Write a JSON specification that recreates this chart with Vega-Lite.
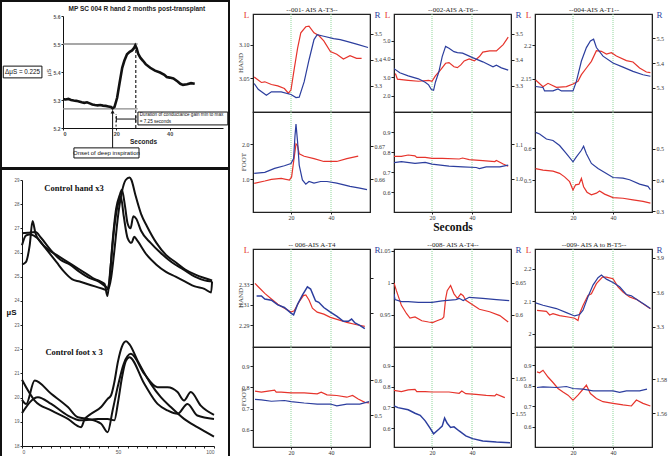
{
"$schema": "https://vega.github.io/schema/vega-lite/v6.json",
"padding": 0,
"background": "white",
"config": {
  "view": {"stroke": "#222", "strokeWidth": 1.2},
  "axis": {"grid": false, "labelFont": "Liberation Serif", "labelFontSize": 6, "labelColor": "#333", "tickSize": 3, "domainColor": "#222", "tickColor": "#222", "labelPadding": 1, "titleFont": "Liberation Serif", "titleFontWeight": "normal"},
  "axisX": {"tickSize": 2, "labelPadding": 0},
  "line": {"strokeWidth": 1.2}
},
"hconcat": [
{
  "vconcat": [
  {
    "width": 228, "height": 167,
    "view": {"stroke": "#111", "strokeWidth": 2},
    "encoding": {
      "x": {"field": "s", "type": "quantitative", "scale": {"domain": [0, 60], "range": [62, 222], "nice": false, "zero": false},
            "axis": {"values": [0, 20, 40], "offset": -40, "title": "Seconds", "titleFont": "Liberation Sans", "titleFontSize": 6.5, "titleFontWeight": "bold", "titleColor": "#222", "labelFont": "Liberation Sans", "labelFontSize": 5.5, "labelFontWeight": "bold", "labelColor": "#444", "tickSize": 2, "labelPadding": 1, "titlePadding": 2, "domainColor": "#111"}},
      "y": {"field": "v", "type": "quantitative", "scale": {"domain": [5.2, 5.6], "range": [127, 15], "nice": false, "zero": false},
            "axis": {"values": [5.2, 5.3, 5.4, 5.5, 5.6], "format": ".1f", "offset": -62, "title": "µS", "titleFont": "Liberation Sans", "titleFontSize": 6, "titleColor": "#333", "titlePadding": 2, "labelFont": "Liberation Sans", "labelFontSize": 5, "labelFontWeight": "bold", "labelColor": "#555", "tickSize": 2, "domainColor": "#111"}}
    },
    "layer": [
      {"data": {"values": [{"s": 0, "s2": 28, "v": 5.5}, {"s": 0, "s2": 28, "v": 5.268}]},
       "mark": {"type": "rule", "color": "#8a8a8a", "strokeWidth": 1.3},
       "encoding": {"x2": {"field": "s2"}}},
      {"data": {"values": [{"s": 27.3, "v": 5.2, "v2": 5.5}]},
       "mark": {"type": "rule", "color": "#111", "strokeWidth": 1.1, "strokeDash": [3, 2]},
       "encoding": {"y2": {"field": "v2"}}},
      {"data": {"values": [{"s": 19.9, "v": 5.205, "v2": 5.25}]},
       "mark": {"type": "rule", "color": "#111", "strokeWidth": 1, "strokeDash": [2, 2]},
       "encoding": {"y2": {"field": "v2"}}},
      {"data": {"values": [{"s": 18.6, "v": 5.129, "v2": 5.262}]},
       "mark": {"type": "rule", "color": "#111", "strokeWidth": 1},
       "encoding": {"y2": {"field": "v2"}}},
      {"data": {"values": [{"s": 18.6, "v": 5.258}]},
       "mark": {"type": "point", "shape": "triangle-up", "size": 16, "filled": true, "color": "#111", "opacity": 1},
       "encoding": {}},
      {"data": {"values": [{"s": 20, "s2": 27.3, "v": 5.232}]},
       "mark": {"type": "rule", "color": "#111", "strokeWidth": 1},
       "encoding": {"x2": {"field": "s2"}}},
      {"data": {"values": [{"s": 20, "v": 5.222, "v2": 5.243}, {"s": 27.3, "v": 5.222, "v2": 5.243}]},
       "mark": {"type": "rule", "color": "#111", "strokeWidth": 1},
       "encoding": {"y2": {"field": "v2"}}},
      {"data": {"values": [
        {"s": 0, "v": 5.303}, {"s": 1, "v": 5.302}, {"s": 2, "v": 5.304}, {"s": 3, "v": 5.3}, {"s": 4, "v": 5.298}, {"s": 5, "v": 5.297}, {"s": 6, "v": 5.295}, {"s": 7, "v": 5.292}, {"s": 8, "v": 5.29}, {"s": 9, "v": 5.292}, {"s": 10, "v": 5.288}, {"s": 11, "v": 5.284}, {"s": 12, "v": 5.282}, {"s": 13, "v": 5.281}, {"s": 14, "v": 5.282}, {"s": 15, "v": 5.28}, {"s": 16, "v": 5.279}, {"s": 17, "v": 5.277}, {"s": 18, "v": 5.275}, {"s": 18.6, "v": 5.27}, {"s": 19.3, "v": 5.275}, {"s": 20.3, "v": 5.308}, {"s": 21.2, "v": 5.36}, {"s": 22.2, "v": 5.415}, {"s": 23, "v": 5.44}, {"s": 24, "v": 5.463}, {"s": 25, "v": 5.472}, {"s": 25.9, "v": 5.477}, {"s": 26.6, "v": 5.485}, {"s": 27.1, "v": 5.495}, {"s": 27.6, "v": 5.485}, {"s": 28.2, "v": 5.465}, {"s": 29, "v": 5.451}, {"s": 30, "v": 5.44}, {"s": 31, "v": 5.428}, {"s": 32.7, "v": 5.415}, {"s": 34.5, "v": 5.405}, {"s": 36.4, "v": 5.398}, {"s": 38, "v": 5.39}, {"s": 38.9, "v": 5.382}, {"s": 40, "v": 5.38}, {"s": 41.4, "v": 5.377}, {"s": 43, "v": 5.366}, {"s": 44, "v": 5.358}, {"s": 45, "v": 5.354}, {"s": 46.5, "v": 5.356}, {"s": 48, "v": 5.36}, {"s": 49.4, "v": 5.358}]},
       "mark": {"type": "line", "color": "#111", "strokeWidth": 2.6},
       "encoding": {}},
      {"data": {"values": [
        {"s": -22.4, "s2": -7.9, "v": 5.379, "v2": 5.421},
        {"s": 4.1, "s2": 28.5, "v": 5.093, "v2": 5.129},
        {"s": 28.1, "s2": 61.8, "v": 5.211, "v2": 5.257}]},
       "mark": {"type": "rect", "fill": "white", "stroke": "#111", "strokeWidth": 1},
       "encoding": {"x2": {"field": "s2"}, "y2": {"field": "v2"}}},
      {"data": {"values": [
        {"s": -15.15, "v": 5.4, "txt": "ΔμS = 0.225"}]},
       "mark": {"type": "text", "font": "Liberation Sans", "fontSize": 6.3, "color": "#111", "align": "center", "baseline": "middle"},
       "encoding": {"text": {"field": "txt"}}},
      {"data": {"values": [
        {"s": 16.3, "v": 5.111, "txt": "Onset of deep inspiration"}]},
       "mark": {"type": "text", "font": "Liberation Sans", "fontSize": 6, "color": "#111", "align": "center", "baseline": "middle"},
       "encoding": {"text": {"field": "txt"}}},
      {"data": {"values": [
        {"s": 28.8, "v": 5.245, "txt": "Duration of conductance gain min to max"},
        {"s": 28.8, "v": 5.223, "txt": "= 7.25 seconds"}]},
       "mark": {"type": "text", "font": "Liberation Sans", "fontSize": 4.6, "color": "#111", "align": "left", "baseline": "middle"},
       "encoding": {"text": {"field": "txt"}}},
      {"data": {"values": [
        {"s": 27.7, "v": 5.625, "txt": "MP SC 004 R hand 2 months post-transplant"}]},
       "mark": {"type": "text", "font": "Liberation Sans", "fontSize": 6.5, "fontWeight": "bold", "color": "#222", "align": "center", "baseline": "middle"},
       "encoding": {"text": {"field": "txt"}}}
    ]
  },
  {
    "width": 228, "height": 288,
    "view": {"stroke": "#111", "strokeWidth": 2},
    "encoding": {
      "x": {"field": "x", "type": "quantitative", "scale": {"domain": [0, 100], "range": [21, 213], "nice": false, "zero": false},
            "axis": {"values": [0, 5, 10, 15, 20, 25, 30, 35, 40, 45, 50, 55, 60, 65, 70, 75, 80, 85, 90, 95, 100], "labelExpr": "datum.value % 50 == 0 ? datum.label : ''", "offset": -11, "title": null, "labelFont": "Liberation Sans", "labelFontSize": 5, "labelColor": "#555", "tickSize": 2, "labelPadding": 1, "domainColor": "#111"}},
      "y": {"field": "y", "type": "quantitative", "scale": {"domain": [18, 29], "range": [277, 11], "nice": false, "zero": false},
            "axis": {"values": [18, 19, 20, 21, 22, 23, 24, 25, 26, 27, 28, 29], "format": "d", "offset": -21, "title": "µS", "titleAngle": 0, "titleX": -11, "titleY": 143, "titleAlign": "center", "titleBaseline": "middle", "titleFont": "Liberation Sans", "titleFontSize": 8, "titleFontWeight": "bold", "titleColor": "#111", "labelFont": "Liberation Sans", "labelFontSize": 4.5, "labelColor": "#555", "tickSize": 2, "domainColor": "#111"}}
    },
    "layer": [
      {"data": {"values": [
        {"id": "h1", "x": 0, "y": 26.8}, {"id": "h1", "x": 3, "y": 26.82}, {"id": "h1", "x": 7, "y": 26.85}, {"id": "h1", "x": 10, "y": 26.6}, {"id": "h1", "x": 15, "y": 26.1}, {"id": "h1", "x": 20, "y": 25.7}, {"id": "h1", "x": 25, "y": 25.5}, {"id": "h1", "x": 30, "y": 25.2}, {"id": "h1", "x": 35, "y": 24.95}, {"id": "h1", "x": 40, "y": 24.8}, {"id": "h1", "x": 43.5, "y": 24.6}, {"id": "h1", "x": 45, "y": 24.5}, {"id": "h1", "x": 46.5, "y": 25.0}, {"id": "h1", "x": 48, "y": 26.0}, {"id": "h1", "x": 50, "y": 27.5}, {"id": "h1", "x": 52, "y": 28.5}, {"id": "h1", "x": 54, "y": 29.0}, {"id": "h1", "x": 56, "y": 29.1}, {"id": "h1", "x": 57, "y": 29.0}, {"id": "h1", "x": 59, "y": 28.4}, {"id": "h1", "x": 62, "y": 27.6}, {"id": "h1", "x": 65, "y": 27.1}, {"id": "h1", "x": 70, "y": 26.4}, {"id": "h1", "x": 75, "y": 25.9}, {"id": "h1", "x": 80, "y": 25.6}, {"id": "h1", "x": 85, "y": 25.3}, {"id": "h1", "x": 90, "y": 25.1}, {"id": "h1", "x": 95, "y": 24.95}, {"id": "h1", "x": 99, "y": 24.85},
        {"id": "h2", "x": 0, "y": 26.3}, {"id": "h2", "x": 2, "y": 26.7}, {"id": "h2", "x": 4, "y": 26.75}, {"id": "h2", "x": 8, "y": 26.6}, {"id": "h2", "x": 12, "y": 26.2}, {"id": "h2", "x": 18, "y": 25.6}, {"id": "h2", "x": 22, "y": 25.2}, {"id": "h2", "x": 26, "y": 24.9}, {"id": "h2", "x": 30, "y": 24.8}, {"id": "h2", "x": 34, "y": 24.7}, {"id": "h2", "x": 38, "y": 24.6}, {"id": "h2", "x": 42, "y": 24.5}, {"id": "h2", "x": 44, "y": 24.45}, {"id": "h2", "x": 45.5, "y": 24.8}, {"id": "h2", "x": 47, "y": 26.3}, {"id": "h2", "x": 49, "y": 27.8}, {"id": "h2", "x": 51, "y": 28.4}, {"id": "h2", "x": 52, "y": 28.6}, {"id": "h2", "x": 53.5, "y": 28.0}, {"id": "h2", "x": 55, "y": 27.2}, {"id": "h2", "x": 56.5, "y": 27.0}, {"id": "h2", "x": 58, "y": 27.5}, {"id": "h2", "x": 59.5, "y": 27.4}, {"id": "h2", "x": 62, "y": 26.9}, {"id": "h2", "x": 67, "y": 26.4}, {"id": "h2", "x": 72, "y": 26.0}, {"id": "h2", "x": 78, "y": 25.6}, {"id": "h2", "x": 84, "y": 25.3}, {"id": "h2", "x": 90, "y": 25.0}, {"id": "h2", "x": 95, "y": 24.85}, {"id": "h2", "x": 99, "y": 24.8},
        {"id": "h3", "x": 0, "y": 25.5}, {"id": "h3", "x": 2, "y": 25.6}, {"id": "h3", "x": 4, "y": 26.3}, {"id": "h3", "x": 5.5, "y": 27.3}, {"id": "h3", "x": 7, "y": 26.8}, {"id": "h3", "x": 10, "y": 26.4}, {"id": "h3", "x": 14, "y": 26.1}, {"id": "h3", "x": 18, "y": 25.9}, {"id": "h3", "x": 22, "y": 25.7}, {"id": "h3", "x": 26, "y": 25.5}, {"id": "h3", "x": 30, "y": 25.3}, {"id": "h3", "x": 34, "y": 25.1}, {"id": "h3", "x": 38, "y": 24.9}, {"id": "h3", "x": 41, "y": 24.8}, {"id": "h3", "x": 43, "y": 24.7}, {"id": "h3", "x": 44.5, "y": 24.2}, {"id": "h3", "x": 46, "y": 25.3}, {"id": "h3", "x": 48, "y": 27.0}, {"id": "h3", "x": 50, "y": 28.0}, {"id": "h3", "x": 51.5, "y": 28.3}, {"id": "h3", "x": 53, "y": 27.5}, {"id": "h3", "x": 55, "y": 26.6}, {"id": "h3", "x": 57, "y": 26.4}, {"id": "h3", "x": 58.5, "y": 26.65}, {"id": "h3", "x": 60, "y": 26.5}, {"id": "h3", "x": 65, "y": 25.9}, {"id": "h3", "x": 70, "y": 25.5}, {"id": "h3", "x": 75, "y": 25.2}, {"id": "h3", "x": 80, "y": 25.0}, {"id": "h3", "x": 85, "y": 24.8}, {"id": "h3", "x": 90, "y": 24.6}, {"id": "h3", "x": 95, "y": 24.5}, {"id": "h3", "x": 98.5, "y": 24.35}, {"id": "h3", "x": 99, "y": 24.8},
        {"id": "f1", "x": 0, "y": 20.74}, {"id": "f1", "x": 6.6, "y": 19.88}, {"id": "f1", "x": 15.2, "y": 19.47}, {"id": "f1", "x": 23.9, "y": 19.12}, {"id": "f1", "x": 30.8, "y": 18.78}, {"id": "f1", "x": 32.5, "y": 19.08}, {"id": "f1", "x": 36, "y": 19.33}, {"id": "f1", "x": 41.2, "y": 19.61}, {"id": "f1", "x": 44.6, "y": 19.95}, {"id": "f1", "x": 46.4, "y": 20.1}, {"id": "f1", "x": 48, "y": 20.6}, {"id": "f1", "x": 50, "y": 21.5}, {"id": "f1", "x": 52, "y": 22.1}, {"id": "f1", "x": 54.2, "y": 22.33}, {"id": "f1", "x": 56, "y": 22.2}, {"id": "f1", "x": 60.2, "y": 21.53}, {"id": "f1", "x": 67.1, "y": 20.57}, {"id": "f1", "x": 72.3, "y": 20.02}, {"id": "f1", "x": 77.5, "y": 19.61}, {"id": "f1", "x": 84.4, "y": 19.12}, {"id": "f1", "x": 91.3, "y": 18.78}, {"id": "f1", "x": 100, "y": 18.39},
        {"id": "f2", "x": 0, "y": 19.91}, {"id": "f2", "x": 2.2, "y": 19.74}, {"id": "f2", "x": 6.6, "y": 20.71}, {"id": "f2", "x": 15.2, "y": 20.16}, {"id": "f2", "x": 23.9, "y": 19.61}, {"id": "f2", "x": 29.1, "y": 19.19}, {"id": "f2", "x": 34.3, "y": 19.12}, {"id": "f2", "x": 41.2, "y": 18.92}, {"id": "f2", "x": 44.6, "y": 18.57}, {"id": "f2", "x": 47.2, "y": 19.47}, {"id": "f2", "x": 50, "y": 20.5}, {"id": "f2", "x": 53, "y": 21.4}, {"id": "f2", "x": 56.7, "y": 21.81}, {"id": "f2", "x": 63.7, "y": 20.98}, {"id": "f2", "x": 70.6, "y": 20.43}, {"id": "f2", "x": 75.8, "y": 20.43}, {"id": "f2", "x": 81, "y": 20.23}, {"id": "f2", "x": 84.4, "y": 19.88}, {"id": "f2", "x": 87.9, "y": 20.23}, {"id": "f2", "x": 93.1, "y": 19.67}, {"id": "f2", "x": 100, "y": 19.29},
        {"id": "f3", "x": 0, "y": 19.36}, {"id": "f3", "x": 8.3, "y": 20.02}, {"id": "f3", "x": 15.2, "y": 19.74}, {"id": "f3", "x": 23.9, "y": 19.26}, {"id": "f3", "x": 30.8, "y": 19.06}, {"id": "f3", "x": 39.4, "y": 19.12}, {"id": "f3", "x": 44.6, "y": 19.12}, {"id": "f3", "x": 48.1, "y": 19.06}, {"id": "f3", "x": 50, "y": 19.8}, {"id": "f3", "x": 52, "y": 20.8}, {"id": "f3", "x": 54, "y": 21.5}, {"id": "f3", "x": 55.9, "y": 21.67}, {"id": "f3", "x": 63.7, "y": 20.57}, {"id": "f3", "x": 70.6, "y": 19.74}, {"id": "f3", "x": 75.8, "y": 19.47}, {"id": "f3", "x": 81, "y": 19.33}, {"id": "f3", "x": 86.2, "y": 19.74}, {"id": "f3", "x": 91.3, "y": 19.26}, {"id": "f3", "x": 100, "y": 19.12}]},
       "mark": {"type": "line", "color": "#111", "strokeWidth": 2, "interpolate": "monotone"},
       "encoding": {"detail": {"field": "id"}}},
      {"data": {"values": [
        {"x": 27.1, "y": 28.67, "txt": "Control hand x3"},
        {"x": 27.1, "y": 21.89, "txt": "Control foot x 3"}]},
       "mark": {"type": "text", "font": "Liberation Serif", "fontSize": 8.5, "fontWeight": "bold", "color": "#111", "align": "center", "baseline": "middle"},
       "encoding": {"text": {"field": "txt"}}}
    ]
  }
  ],
  "spacing": 1,
  "bounds": "flush"
},
{
  "columns": 3,
  "align": "each",
  "bounds": "flush",
  "spacing": {"row": 0, "column": 24},
  "concat": [
  {"width": 117, "height": 13, "view": {"stroke": null}, "data": {"values": [{"a": 0}]}, "mark": {"type": "point", "opacity": 0}, "encoding": {}},
  {"width": 117, "height": 13, "view": {"stroke": null}, "data": {"values": [{"a": 0}]}, "mark": {"type": "point", "opacity": 0}, "encoding": {}},
  {"width": 117, "height": 13, "view": {"stroke": null}, "data": {"values": [{"a": 0}]}, "mark": {"type": "point", "opacity": 0}, "encoding": {}},
  {
    "width": 117, "height": 98,
    "title": {"text": "HAND", "orient": "left", "frame": "group", "offset": -5, "fontSize": 7, "font": "Liberation Serif", "fontWeight": "normal", "color": "#444"},
    "encoding": {"x": {"field": "t", "type": "quantitative", "scale": {"domain": [1, 59.5], "nice": false, "zero": false}, "axis": {"orient": "top", "title": "--001- AIS A-T3--", "labels": false, "ticks": false, "domain": false, "titlePadding": 2, "titleFontSize": 7, "titleColor": "#222"}}},
    "layer": [
      {"data": {"values": [{"t": 20}, {"t": 40}]}, "mark": {"type": "rule", "color": "#8fd69a", "strokeDash": [1, 1], "strokeWidth": 1}, "encoding": {}},
      {"data": {"values": [{"t": 1.6, "v": 3.052}, {"t": 5.2, "v": 3.044}, {"t": 6.9, "v": 3.045}, {"t": 10.2, "v": 3.041}, {"t": 13.4, "v": 3.039}, {"t": 16.7, "v": 3.035}, {"t": 18.7, "v": 3.028}, {"t": 20, "v": 3.033}, {"t": 21.6, "v": 3.064}, {"t": 23.3, "v": 3.095}, {"t": 24.9, "v": 3.118}, {"t": 27.4, "v": 3.127}, {"t": 29, "v": 3.128}, {"t": 31.5, "v": 3.118}, {"t": 33.9, "v": 3.114}, {"t": 36.4, "v": 3.106}, {"t": 39.7, "v": 3.09}, {"t": 42.9, "v": 3.086}, {"t": 46.2, "v": 3.079}, {"t": 49.5, "v": 3.084}, {"t": 52.8, "v": 3.08}, {"t": 55.3, "v": 3.08}]},
       "mark": {"type": "line", "color": "#e6342c", "clip": true},
       "encoding": {"y": {"field": "v", "type": "quantitative", "scale": {"domain": [3.0, 3.146], "nice": false, "zero": false}, "axis": {"values": [3.05, 3.1], "format": ".2f", "title": "L", "titleAngle": 0, "titleColor": "#e6342c", "titleX": -7, "titleY": 0, "titleFontSize": 9, "titleBaseline": "middle", "titleAlign": "center"}}}},
      {"data": {"values": [{"t": 1.6, "v": 3.309}, {"t": 3.6, "v": 3.287}, {"t": 7.7, "v": 3.264}, {"t": 10.2, "v": 3.277}, {"t": 15.1, "v": 3.277}, {"t": 20, "v": 3.267}, {"t": 22.5, "v": 3.255}, {"t": 24.1, "v": 3.257}, {"t": 26.6, "v": 3.316}, {"t": 29, "v": 3.399}, {"t": 31.5, "v": 3.477}, {"t": 33.1, "v": 3.496}, {"t": 36.4, "v": 3.49}, {"t": 41.3, "v": 3.481}, {"t": 44.6, "v": 3.477}, {"t": 47.9, "v": 3.47}, {"t": 52.8, "v": 3.46}, {"t": 58.5, "v": 3.447}]},
       "mark": {"type": "line", "color": "#2c3e9e", "clip": true},
       "encoding": {"y": {"field": "v", "type": "quantitative", "scale": {"domain": [3.2, 3.575], "nice": false, "zero": false}, "axis": {"orient": "right", "values": [3.3, 3.4, 3.5], "format": ".1f", "title": "R", "titleAngle": 0, "titleColor": "#2c3e9e", "titleX": 7, "titleY": 0, "titleFontSize": 9, "titleBaseline": "middle", "titleAlign": "center"}}}}
    ],
    "resolve": {"scale": {"y": "independent"}}
  },
  {
    "width": 117, "height": 98,
    "encoding": {"x": {"field": "t", "type": "quantitative", "scale": {"domain": [1, 59.5], "nice": false, "zero": false}, "axis": {"orient": "top", "title": "--002-AIS A-T6--", "labels": false, "ticks": false, "domain": false, "titlePadding": 2, "titleFontSize": 7, "titleColor": "#222"}}},
    "layer": [
      {"data": {"values": [{"t": 20}, {"t": 40}]}, "mark": {"type": "rule", "color": "#8fd69a", "strokeDash": [1, 1], "strokeWidth": 1}, "encoding": {}},
      {"data": {"values": [{"t": 1.7, "v": 3.2}, {"t": 2.7, "v": 2.89}, {"t": 8.1, "v": 2.83}, {"t": 13.2, "v": 2.78}, {"t": 18.3, "v": 2.83}, {"t": 20, "v": 2.78}, {"t": 21.7, "v": 3.07}, {"t": 24.2, "v": 3.39}, {"t": 26.8, "v": 3.76}, {"t": 28.5, "v": 3.8}, {"t": 31, "v": 3.57}, {"t": 32.7, "v": 3.52}, {"t": 34.4, "v": 3.67}, {"t": 36.1, "v": 3.89}, {"t": 38.6, "v": 4.0}, {"t": 41.2, "v": 3.89}, {"t": 43.7, "v": 4.13}, {"t": 45.4, "v": 4.37}, {"t": 48.8, "v": 4.44}, {"t": 52.2, "v": 4.44}, {"t": 55.6, "v": 4.78}, {"t": 58.1, "v": 5.19}]},
       "mark": {"type": "line", "color": "#e6342c", "clip": true},
       "encoding": {"y": {"field": "v", "type": "quantitative", "scale": {"domain": [1.1, 6.45], "nice": false, "zero": false}, "axis": {"values": [2, 3, 4, 5], "format": ".1f", "title": "L", "titleAngle": 0, "titleColor": "#e6342c", "titleX": -7, "titleY": 0, "titleFontSize": 9, "titleBaseline": "middle", "titleAlign": "center"}}}},
      {"data": {"values": [{"t": 1, "v": 3.366}, {"t": 3.9, "v": 3.35}, {"t": 8.1, "v": 3.338}, {"t": 13.2, "v": 3.327}, {"t": 16.6, "v": 3.314}, {"t": 18.3, "v": 3.304}, {"t": 19.7, "v": 3.286}, {"t": 20.8, "v": 3.283}, {"t": 21.7, "v": 3.314}, {"t": 23.4, "v": 3.353}, {"t": 25.1, "v": 3.412}, {"t": 26.8, "v": 3.451}, {"t": 28.5, "v": 3.444}, {"t": 31, "v": 3.431}, {"t": 32.7, "v": 3.427}, {"t": 35.3, "v": 3.425}, {"t": 40.3, "v": 3.408}, {"t": 45.4, "v": 3.392}, {"t": 50.5, "v": 3.373}, {"t": 52.2, "v": 3.379}, {"t": 54.7, "v": 3.369}, {"t": 58.1, "v": 3.36}]},
       "mark": {"type": "line", "color": "#2c3e9e", "clip": true},
       "encoding": {"y": {"field": "v", "type": "quantitative", "scale": {"domain": [3.2, 3.575], "nice": false, "zero": false}, "axis": {"orient": "right", "values": [3.3, 3.4, 3.5], "format": ".1f", "title": "R", "titleAngle": 0, "titleColor": "#2c3e9e", "titleX": 7, "titleY": 0, "titleFontSize": 9, "titleBaseline": "middle", "titleAlign": "center"}}}}
    ],
    "resolve": {"scale": {"y": "independent"}}
  },
  {
    "width": 117, "height": 98,
    "encoding": {"x": {"field": "t", "type": "quantitative", "scale": {"domain": [1, 59.5], "nice": false, "zero": false}, "axis": {"orient": "top", "title": "--004-AIS A-T1--", "labels": false, "ticks": false, "domain": false, "titlePadding": 2, "titleFontSize": 7, "titleColor": "#222"}}},
    "layer": [
      {"data": {"values": [{"t": 20}, {"t": 40}]}, "mark": {"type": "rule", "color": "#8fd69a", "strokeDash": [1, 1], "strokeWidth": 1}, "encoding": {}},
      {"data": {"values": [{"t": 1.3, "v": 2.148}, {"t": 5, "v": 2.138}, {"t": 7.5, "v": 2.143}, {"t": 11.7, "v": 2.137}, {"t": 16.7, "v": 2.138}, {"t": 20, "v": 2.142}, {"t": 22.5, "v": 2.146}, {"t": 24.2, "v": 2.156}, {"t": 26.7, "v": 2.166}, {"t": 29.2, "v": 2.176}, {"t": 31.7, "v": 2.192}, {"t": 34.2, "v": 2.191}, {"t": 36.7, "v": 2.187}, {"t": 39.2, "v": 2.189}, {"t": 41.7, "v": 2.184}, {"t": 46.7, "v": 2.177}, {"t": 50, "v": 2.175}, {"t": 53.3, "v": 2.166}, {"t": 56.7, "v": 2.16}, {"t": 58.7, "v": 2.159}]},
       "mark": {"type": "line", "color": "#e6342c", "clip": true},
       "encoding": {"y": {"field": "v", "type": "quantitative", "scale": {"domain": [2.1, 2.247], "nice": false, "zero": false}, "axis": {"values": [2.15, 2.2], "format": ".2~f", "title": "L", "titleAngle": 0, "titleColor": "#e6342c", "titleX": -7, "titleY": 0, "titleFontSize": 9, "titleBaseline": "middle", "titleAlign": "center"}}}},
      {"data": {"values": [{"t": 1.3, "v": 5.304}, {"t": 5, "v": 5.3}, {"t": 5.8, "v": 5.286}, {"t": 10, "v": 5.286}, {"t": 12.5, "v": 5.294}, {"t": 14.2, "v": 5.286}, {"t": 20, "v": 5.286}, {"t": 21.7, "v": 5.325}, {"t": 24.2, "v": 5.408}, {"t": 26.7, "v": 5.463}, {"t": 28.7, "v": 5.49}, {"t": 30.3, "v": 5.497}, {"t": 31.7, "v": 5.463}, {"t": 35, "v": 5.428}, {"t": 40, "v": 5.4}, {"t": 45, "v": 5.383}, {"t": 50, "v": 5.366}, {"t": 55, "v": 5.352}, {"t": 58.7, "v": 5.346}]},
       "mark": {"type": "line", "color": "#2c3e9e", "clip": true},
       "encoding": {"y": {"field": "v", "type": "quantitative", "scale": {"domain": [5.2, 5.6], "nice": false, "zero": false}, "axis": {"orient": "right", "values": [5.3, 5.4, 5.5], "format": ".1f", "title": "R", "titleAngle": 0, "titleColor": "#2c3e9e", "titleX": 7, "titleY": 0, "titleFontSize": 9, "titleBaseline": "middle", "titleAlign": "center"}}}}
    ],
    "resolve": {"scale": {"y": "independent"}}
  },
  {
    "width": 117, "height": 100,
    "title": {"text": "FOOT", "orient": "left", "frame": "group", "offset": -5, "fontSize": 7, "font": "Liberation Serif", "fontWeight": "normal", "color": "#444"},
    "encoding": {"x": {"field": "t", "type": "quantitative", "scale": {"domain": [1, 59.5], "nice": false, "zero": false}, "axis": {"values": [20, 40], "format": "d", "title": null}}},
    "layer": [
      {"data": {"values": [{"t": 20}, {"t": 40}]}, "mark": {"type": "rule", "color": "#8fd69a", "strokeDash": [1, 1], "strokeWidth": 1}, "encoding": {}},
      {"data": {"values": [{"t": 1.6, "v": 0.888}, {"t": 6.9, "v": 0.953}, {"t": 10.2, "v": 1.0}, {"t": 15.1, "v": 1.03}, {"t": 19.2, "v": 0.98}, {"t": 20.3, "v": 1.07}, {"t": 21.3, "v": 1.5}, {"t": 22.5, "v": 2.01}, {"t": 23.3, "v": 1.96}, {"t": 24.1, "v": 1.73}, {"t": 26.6, "v": 1.66}, {"t": 31.5, "v": 1.59}, {"t": 36.4, "v": 1.51}, {"t": 42.9, "v": 1.51}, {"t": 47.9, "v": 1.59}, {"t": 53.6, "v": 1.66}]},
       "mark": {"type": "line", "color": "#e6342c", "clip": true},
       "encoding": {"y": {"field": "v", "type": "quantitative", "scale": {"domain": [0.07, 2.92], "nice": false, "zero": false}, "axis": {"values": [1, 2], "format": ".1f", "title": null}}}},
      {"data": {"values": [{"t": 1.6, "v": 0.6618}, {"t": 6.9, "v": 0.6621}, {"t": 11.8, "v": 0.6633}, {"t": 16.7, "v": 0.6641}, {"t": 20, "v": 0.6648}, {"t": 21.3, "v": 0.6663}, {"t": 22, "v": 0.6733}, {"t": 22.5, "v": 0.6768}, {"t": 23.3, "v": 0.6713}, {"t": 24.1, "v": 0.6643}, {"t": 25.7, "v": 0.6598}, {"t": 27.4, "v": 0.6585}, {"t": 29, "v": 0.6593}, {"t": 31.5, "v": 0.6588}, {"t": 34.8, "v": 0.6593}, {"t": 38, "v": 0.6593}, {"t": 42.9, "v": 0.6588}, {"t": 49.5, "v": 0.6578}, {"t": 54.4, "v": 0.6573}, {"t": 58, "v": 0.6568}]},
       "mark": {"type": "line", "color": "#2c3e9e", "clip": true},
       "encoding": {"y": {"field": "v", "type": "quantitative", "scale": {"domain": [0.65, 0.6805], "nice": false, "zero": false}, "axis": {"orient": "right", "values": [0.66, 0.67], "format": ".2f", "title": null}}}}
    ],
    "resolve": {"scale": {"y": "independent"}}
  },
  {
    "width": 117, "height": 100,
    "encoding": {"x": {"field": "t", "type": "quantitative", "scale": {"domain": [1, 59.5], "nice": false, "zero": false}, "axis": {"values": [20, 40], "format": "d", "title": "Seconds", "titleFont": "Liberation Serif", "titleFontSize": 11.5, "titleFontWeight": "bold", "titleColor": "#111", "titlePadding": 1.5}}},
    "layer": [
      {"data": {"values": [{"t": 20}, {"t": 40}]}, "mark": {"type": "rule", "color": "#8fd69a", "strokeDash": [1, 1], "strokeWidth": 1}, "encoding": {}},
      {"data": {"values": [{"t": 1, "v": 0.778}, {"t": 4.7, "v": 0.778}, {"t": 8.1, "v": 0.785}, {"t": 11.5, "v": 0.781}, {"t": 12.4, "v": 0.773}, {"t": 16.6, "v": 0.773}, {"t": 20, "v": 0.768}, {"t": 25.1, "v": 0.768}, {"t": 33.6, "v": 0.765}, {"t": 35.3, "v": 0.77}, {"t": 38.6, "v": 0.762}, {"t": 45.4, "v": 0.757}, {"t": 51.4, "v": 0.752}, {"t": 52.2, "v": 0.758}, {"t": 55.6, "v": 0.74}, {"t": 58.1, "v": 0.729}]},
       "mark": {"type": "line", "color": "#e6342c", "clip": true},
       "encoding": {"y": {"field": "v", "type": "quantitative", "scale": {"domain": [0.5, 1.0], "nice": false, "zero": false}, "axis": {"values": [0.6, 0.7, 0.8, 0.9], "format": ".1f", "title": null}}}},
      {"data": {"values": [{"t": 1, "v": 1.047}, {"t": 4.7, "v": 1.05}, {"t": 11.5, "v": 1.045}, {"t": 16.6, "v": 1.048}, {"t": 20, "v": 1.043}, {"t": 28.5, "v": 1.037}, {"t": 35.3, "v": 1.035}, {"t": 42.1, "v": 1.033}, {"t": 43.7, "v": 1.03}, {"t": 47.1, "v": 1.035}, {"t": 53.9, "v": 1.035}, {"t": 58.1, "v": 1.04}]},
       "mark": {"type": "line", "color": "#2c3e9e", "clip": true},
       "encoding": {"y": {"field": "v", "type": "quantitative", "scale": {"domain": [0.904, 1.194], "nice": false, "zero": false}, "axis": {"orient": "right", "values": [1.0, 1.1], "format": ".1f", "title": null}}}}
    ],
    "resolve": {"scale": {"y": "independent"}}
  },
  {
    "width": 117, "height": 100,
    "encoding": {"x": {"field": "t", "type": "quantitative", "scale": {"domain": [1, 59.5], "nice": false, "zero": false}, "axis": {"values": [20, 40], "format": "d", "title": null}}},
    "layer": [
      {"data": {"values": [{"t": 20}, {"t": 40}]}, "mark": {"type": "rule", "color": "#8fd69a", "strokeDash": [1, 1], "strokeWidth": 1}, "encoding": {}},
      {"data": {"values": [{"t": 1.3, "v": 0.536}, {"t": 5, "v": 0.531}, {"t": 10, "v": 0.528}, {"t": 13.3, "v": 0.521}, {"t": 15.8, "v": 0.51}, {"t": 18.3, "v": 0.495}, {"t": 20, "v": 0.469}, {"t": 21.3, "v": 0.485}, {"t": 23, "v": 0.487}, {"t": 24.2, "v": 0.505}, {"t": 25.3, "v": 0.479}, {"t": 27, "v": 0.462}, {"t": 29.2, "v": 0.454}, {"t": 31.7, "v": 0.459}, {"t": 33.3, "v": 0.466}, {"t": 35.8, "v": 0.456}, {"t": 40, "v": 0.445}, {"t": 45, "v": 0.443}, {"t": 50, "v": 0.438}, {"t": 55, "v": 0.433}, {"t": 58.7, "v": 0.428}]},
       "mark": {"type": "line", "color": "#e6342c", "clip": true},
       "encoding": {"y": {"field": "v", "type": "quantitative", "scale": {"domain": [0.4, 0.713], "nice": false, "zero": false}, "axis": {"values": [0.5, 0.6], "format": ".1f", "title": null}}}},
      {"data": {"values": [{"t": 1.3, "v": 0.552}, {"t": 3.3, "v": 0.547}, {"t": 6.7, "v": 0.531}, {"t": 10, "v": 0.526}, {"t": 13.3, "v": 0.51}, {"t": 16.7, "v": 0.484}, {"t": 20, "v": 0.458}, {"t": 21.7, "v": 0.474}, {"t": 24.2, "v": 0.495}, {"t": 25.3, "v": 0.508}, {"t": 26.7, "v": 0.484}, {"t": 29.2, "v": 0.453}, {"t": 32.5, "v": 0.437}, {"t": 36.7, "v": 0.421}, {"t": 40, "v": 0.408}, {"t": 45, "v": 0.406}, {"t": 48.3, "v": 0.401}, {"t": 53.3, "v": 0.387}, {"t": 57.5, "v": 0.38}, {"t": 58.7, "v": 0.369}]},
       "mark": {"type": "line", "color": "#2c3e9e", "clip": true},
       "encoding": {"y": {"field": "v", "type": "quantitative", "scale": {"domain": [0.298, 0.617], "nice": false, "zero": false}, "axis": {"orient": "right", "values": [0.3, 0.4, 0.5], "format": ".1f", "title": null}}}}
    ],
    "resolve": {"scale": {"y": "independent"}}
  },
  {"width": 117, "height": 37, "view": {"stroke": null}, "data": {"values": [{"a": 0}]}, "mark": {"type": "point", "opacity": 0}, "encoding": {}},
  {"width": 117, "height": 37, "view": {"stroke": null}, "data": {"values": [{"a": 0}]}, "mark": {"type": "point", "opacity": 0}, "encoding": {}},
  {"width": 117, "height": 37, "view": {"stroke": null}, "data": {"values": [{"a": 0}]}, "mark": {"type": "point", "opacity": 0}, "encoding": {}},
  {
    "width": 117, "height": 98,
    "title": {"text": "HAND", "orient": "left", "frame": "group", "offset": -5, "fontSize": 7, "font": "Liberation Serif", "fontWeight": "normal", "color": "#444"},
    "encoding": {"x": {"field": "t", "type": "quantitative", "scale": {"domain": [1, 59.5], "nice": false, "zero": false}, "axis": {"orient": "top", "title": "-- 006-AIS A-T4", "labels": false, "ticks": false, "domain": false, "titlePadding": 2, "titleFontSize": 7, "titleColor": "#222"}}},
    "layer": [
      {"data": {"values": [{"t": 20}, {"t": 40}]}, "mark": {"type": "rule", "color": "#8fd69a", "strokeDash": [1, 1], "strokeWidth": 1}, "encoding": {}},
      {"data": {"values": [{"t": 2, "v": 2.3306}, {"t": 3.6, "v": 2.3274}, {"t": 6.9, "v": 2.321}, {"t": 10.2, "v": 2.3156}, {"t": 13.4, "v": 2.3105}, {"t": 16.7, "v": 2.3066}, {"t": 20, "v": 2.3028}, {"t": 21.6, "v": 2.3041}, {"t": 24.1, "v": 2.313}, {"t": 26.2, "v": 2.3188}, {"t": 27.4, "v": 2.3194}, {"t": 29, "v": 2.3146}, {"t": 30.7, "v": 2.3066}, {"t": 33.1, "v": 2.3028}, {"t": 36.4, "v": 2.3009}, {"t": 39.7, "v": 2.2977}, {"t": 43, "v": 2.2958}, {"t": 47.9, "v": 2.2929}, {"t": 52.8, "v": 2.2906}, {"t": 56.9, "v": 2.289}]},
       "mark": {"type": "line", "color": "#e6342c", "clip": true},
       "encoding": {"y": {"field": "v", "type": "quantitative", "scale": {"domain": [2.269, 2.364], "nice": false, "zero": false}, "axis": {"values": [2.29, 2.31, 2.33], "format": ".2f", "title": "L", "titleAngle": 0, "titleColor": "#e6342c", "titleX": -7, "titleY": 0, "titleFontSize": 9, "titleBaseline": "middle", "titleAlign": "center"}}}},
      {"data": {"values": [{"t": 2.8, "v": 0.52}, {"t": 5.2, "v": 0.52}, {"t": 6.9, "v": 0.49}, {"t": 10.2, "v": 0.477}, {"t": 13.4, "v": 0.43}, {"t": 16.7, "v": 0.403}, {"t": 20, "v": 0.346}, {"t": 21.3, "v": 0.329}, {"t": 23.3, "v": 0.436}, {"t": 25.7, "v": 0.53}, {"t": 28.2, "v": 0.614}, {"t": 29.8, "v": 0.591}, {"t": 32.3, "v": 0.47}, {"t": 33.9, "v": 0.456}, {"t": 36.4, "v": 0.403}, {"t": 39.7, "v": 0.356}, {"t": 43, "v": 0.312}, {"t": 46.2, "v": 0.262}, {"t": 48.7, "v": 0.262}, {"t": 50.3, "v": 0.285}, {"t": 52, "v": 0.245}, {"t": 54.4, "v": 0.221}, {"t": 56.9, "v": 0.188}]},
       "mark": {"type": "line", "color": "#2c3e9e", "strokeWidth": 1.5, "clip": true},
       "encoding": {"y": {"field": "v", "type": "quantitative", "scale": {"domain": [0, 1], "nice": false, "zero": false}, "axis": {"orient": "right", "values": [0.346, 0.705], "labels": false, "title": "R", "titleAngle": 0, "titleColor": "#2c3e9e", "titleX": 7, "titleY": 0, "titleFontSize": 9, "titleBaseline": "middle", "titleAlign": "center"}}}}
    ],
    "resolve": {"scale": {"y": "independent"}}
  },
  {
    "width": 117, "height": 98,
    "encoding": {"x": {"field": "t", "type": "quantitative", "scale": {"domain": [1, 59.5], "nice": false, "zero": false}, "axis": {"orient": "top", "title": "--008- AIS A-T4--", "labels": false, "ticks": false, "domain": false, "titlePadding": 2, "titleFontSize": 7, "titleColor": "#222"}}},
    "layer": [
      {"data": {"values": [{"t": 20}, {"t": 40}]}, "mark": {"type": "rule", "color": "#8fd69a", "strokeDash": [1, 1], "strokeWidth": 1}, "encoding": {}},
      {"data": {"values": [{"t": 1, "v": 1.0}, {"t": 2.2, "v": 0.988}, {"t": 4.7, "v": 0.965}, {"t": 7.3, "v": 0.952}, {"t": 9, "v": 0.945}, {"t": 11.5, "v": 0.947}, {"t": 14.9, "v": 0.941}, {"t": 18.3, "v": 0.939}, {"t": 20.3, "v": 0.938}, {"t": 22.5, "v": 0.941}, {"t": 25.1, "v": 0.944}, {"t": 25.9, "v": 0.947}, {"t": 26.8, "v": 0.975}, {"t": 27.6, "v": 0.988}, {"t": 29.3, "v": 0.996}, {"t": 31, "v": 0.983}, {"t": 32.7, "v": 0.976}, {"t": 34.4, "v": 0.983}, {"t": 35.6, "v": 0.98}, {"t": 36.9, "v": 0.973}, {"t": 40.3, "v": 0.966}, {"t": 43.7, "v": 0.959}, {"t": 48.8, "v": 0.955}, {"t": 53.9, "v": 0.949}, {"t": 58.1, "v": 0.939}]},
       "mark": {"type": "line", "color": "#e6342c", "clip": true},
       "encoding": {"y": {"field": "v", "type": "quantitative", "scale": {"domain": [0.9, 1.053], "nice": false, "zero": false}, "axis": {"values": [0.95, 1, 1.05], "format": ".2~f", "title": null}}}},
      {"data": {"values": [{"t": 1, "v": 0.6328}, {"t": 1.5, "v": 0.624}, {"t": 4.7, "v": 0.6208}, {"t": 8.1, "v": 0.6208}, {"t": 13.2, "v": 0.6198}, {"t": 20, "v": 0.6198}, {"t": 25.1, "v": 0.6219}, {"t": 31.9, "v": 0.624}, {"t": 33.6, "v": 0.626}, {"t": 35.6, "v": 0.6224}, {"t": 38.6, "v": 0.6276}, {"t": 45.4, "v": 0.626}, {"t": 52.2, "v": 0.624}, {"t": 58.6, "v": 0.6224}]},
       "mark": {"type": "line", "color": "#2c3e9e", "clip": true},
       "encoding": {"y": {"field": "v", "type": "quantitative", "scale": {"domain": [0.55, 0.703], "nice": false, "zero": false}, "axis": {"orient": "right", "values": [0.6, 0.65], "format": ".2~f", "title": "R", "titleAngle": 0, "titleColor": "#2c3e9e", "titleX": 7, "titleY": 0, "titleFontSize": 9, "titleBaseline": "middle", "titleAlign": "center"}}}}
    ],
    "resolve": {"scale": {"y": "independent"}}
  },
  {
    "width": 117, "height": 98,
    "encoding": {"x": {"field": "t", "type": "quantitative", "scale": {"domain": [1, 59.5], "nice": false, "zero": false}, "axis": {"orient": "top", "title": "--009- AIS A to B-T5--", "labels": false, "ticks": false, "domain": false, "titlePadding": 2, "titleFontSize": 7, "titleColor": "#222"}}},
    "layer": [
      {"data": {"values": [{"t": 20}, {"t": 40}]}, "mark": {"type": "rule", "color": "#8fd69a", "strokeDash": [1, 1], "strokeWidth": 1}, "encoding": {}},
      {"data": {"values": [{"t": 2, "v": 2.072}, {"t": 6.7, "v": 2.069}, {"t": 8.3, "v": 2.058}, {"t": 10, "v": 2.062}, {"t": 13.3, "v": 2.056}, {"t": 18.3, "v": 2.051}, {"t": 20.8, "v": 2.048}, {"t": 22.5, "v": 2.041}, {"t": 23.3, "v": 2.062}, {"t": 25, "v": 2.087}, {"t": 27.5, "v": 2.118}, {"t": 29.2, "v": 2.123}, {"t": 31.7, "v": 2.154}, {"t": 34.7, "v": 2.174}, {"t": 36.7, "v": 2.174}, {"t": 40, "v": 2.169}, {"t": 42.5, "v": 2.144}, {"t": 45, "v": 2.128}, {"t": 48.3, "v": 2.113}, {"t": 51.7, "v": 2.106}, {"t": 55, "v": 2.092}, {"t": 58.7, "v": 2.077}]},
       "mark": {"type": "line", "color": "#e6342c", "clip": true},
       "encoding": {"y": {"field": "v", "type": "quantitative", "scale": {"domain": [1.96, 2.26], "nice": false, "zero": false}, "axis": {"values": [2, 2.1, 2.2], "format": ".1~f", "title": "L", "titleAngle": 0, "titleColor": "#e6342c", "titleX": -7, "titleY": 0, "titleFontSize": 9, "titleBaseline": "middle", "titleAlign": "center"}}}},
      {"data": {"values": [{"t": 1.3, "v": 3.508}, {"t": 5, "v": 3.488}, {"t": 11.7, "v": 3.459}, {"t": 16.7, "v": 3.424}, {"t": 20.8, "v": 3.395}, {"t": 23.3, "v": 3.407}, {"t": 25, "v": 3.445}, {"t": 27.5, "v": 3.561}, {"t": 30, "v": 3.662}, {"t": 32.5, "v": 3.726}, {"t": 34.2, "v": 3.749}, {"t": 36.7, "v": 3.714}, {"t": 40, "v": 3.685}, {"t": 43.3, "v": 3.648}, {"t": 46.7, "v": 3.581}, {"t": 49.2, "v": 3.569}, {"t": 51.7, "v": 3.54}, {"t": 55.8, "v": 3.494}, {"t": 58.7, "v": 3.459}]},
       "mark": {"type": "line", "color": "#2c3e9e", "clip": true},
       "encoding": {"y": {"field": "v", "type": "quantitative", "scale": {"domain": [3.126, 3.975], "nice": false, "zero": false}, "axis": {"orient": "right", "values": [3.3, 3.6, 3.9], "format": ".1f", "title": "R", "titleAngle": 0, "titleColor": "#2c3e9e", "titleX": 7, "titleY": 0, "titleFontSize": 9, "titleBaseline": "middle", "titleAlign": "center"}}}}
    ],
    "resolve": {"scale": {"y": "independent"}}
  },
  {
    "width": 117, "height": 100,
    "title": {"text": "FOOT", "orient": "left", "frame": "group", "offset": -5, "fontSize": 7, "font": "Liberation Serif", "fontWeight": "normal", "color": "#444"},
    "encoding": {"x": {"field": "t", "type": "quantitative", "scale": {"domain": [1, 59.5], "nice": false, "zero": false}, "axis": {"values": [20, 40], "format": "d", "title": null}}},
    "layer": [
      {"data": {"values": [{"t": 20}, {"t": 40}]}, "mark": {"type": "rule", "color": "#8fd69a", "strokeDash": [1, 1], "strokeWidth": 1}, "encoding": {}},
      {"data": {"values": [{"t": 2, "v": 0.783}, {"t": 5.2, "v": 0.778}, {"t": 8.5, "v": 0.783}, {"t": 11.8, "v": 0.787}, {"t": 12.6, "v": 0.778}, {"t": 15.1, "v": 0.778}, {"t": 20, "v": 0.774}, {"t": 26.6, "v": 0.774}, {"t": 33.1, "v": 0.77}, {"t": 35.1, "v": 0.778}, {"t": 38, "v": 0.765}, {"t": 42.9, "v": 0.762}, {"t": 47.9, "v": 0.754}, {"t": 50.8, "v": 0.762}, {"t": 53.6, "v": 0.746}, {"t": 56.9, "v": 0.73}, {"t": 59, "v": 0.727}]},
       "mark": {"type": "line", "color": "#e6342c", "clip": true},
       "encoding": {"y": {"field": "v", "type": "quantitative", "scale": {"domain": [0.52, 0.99], "nice": false, "zero": false}, "axis": {"values": [0.6, 0.7, 0.8, 0.9], "format": ".1f", "title": null}}}},
      {"data": {"values": [{"t": 2, "v": 0.545}, {"t": 5.2, "v": 0.544}, {"t": 10.2, "v": 0.54}, {"t": 16.7, "v": 0.542}, {"t": 20, "v": 0.539}, {"t": 26.6, "v": 0.535}, {"t": 33.1, "v": 0.532}, {"t": 39.7, "v": 0.532}, {"t": 42.9, "v": 0.527}, {"t": 47.9, "v": 0.532}, {"t": 54.4, "v": 0.532}, {"t": 59, "v": 0.539}]},
       "mark": {"type": "line", "color": "#2c3e9e", "clip": true},
       "encoding": {"y": {"field": "v", "type": "quantitative", "scale": {"domain": [0.41, 0.694], "nice": false, "zero": false}, "axis": {"orient": "right", "values": [0.5, 0.6], "format": ".1f", "title": null}}}}
    ],
    "resolve": {"scale": {"y": "independent"}}
  },
  {
    "width": 117, "height": 100,
    "encoding": {"x": {"field": "t", "type": "quantitative", "scale": {"domain": [1, 59.5], "nice": false, "zero": false}, "axis": {"values": [20, 40], "format": "d", "title": null}}},
    "layer": [
      {"data": {"values": [{"t": 20}, {"t": 40}]}, "mark": {"type": "rule", "color": "#8fd69a", "strokeDash": [1, 1], "strokeWidth": 1}, "encoding": {}},
      {"data": {"values": [{"t": 1, "v": 0.782}, {"t": 4.7, "v": 0.776}, {"t": 8.1, "v": 0.784}, {"t": 11.5, "v": 0.787}, {"t": 12.4, "v": 0.776}, {"t": 16.6, "v": 0.776}, {"t": 20, "v": 0.774}, {"t": 28.5, "v": 0.774}, {"t": 33.6, "v": 0.768}, {"t": 34.9, "v": 0.779}, {"t": 36.9, "v": 0.766}, {"t": 42, "v": 0.763}, {"t": 47.1, "v": 0.758}, {"t": 51.4, "v": 0.755}, {"t": 52.2, "v": 0.763}, {"t": 56.4, "v": 0.747}]},
       "mark": {"type": "line", "color": "#e6342c", "clip": true},
       "encoding": {"y": {"field": "v", "type": "quantitative", "scale": {"domain": [0.51, 0.99], "nice": false, "zero": false}, "axis": {"values": [0.6, 0.7, 0.8, 0.9], "format": ".1f", "title": null}}}},
      {"data": {"values": [{"t": 1, "v": 1.571}, {"t": 3, "v": 1.566}, {"t": 8.1, "v": 1.56}, {"t": 11.5, "v": 1.55}, {"t": 14.1, "v": 1.544}, {"t": 16.6, "v": 1.528}, {"t": 19.2, "v": 1.506}, {"t": 20.8, "v": 1.491}, {"t": 23.4, "v": 1.504}, {"t": 25.1, "v": 1.513}, {"t": 26.3, "v": 1.536}, {"t": 27.6, "v": 1.521}, {"t": 29.3, "v": 1.509}, {"t": 31, "v": 1.511}, {"t": 33.6, "v": 1.499}, {"t": 36.9, "v": 1.485}, {"t": 40.3, "v": 1.477}, {"t": 45.4, "v": 1.47}, {"t": 52.2, "v": 1.467}, {"t": 59, "v": 1.465}]},
       "mark": {"type": "line", "color": "#2c3e9e", "strokeWidth": 1.5, "clip": true},
       "encoding": {"y": {"field": "v", "type": "quantitative", "scale": {"domain": [1.453, 1.74], "nice": false, "zero": false}, "axis": {"orient": "right", "values": [1.55, 1.65], "format": ".2f", "title": null}}}}
    ],
    "resolve": {"scale": {"y": "independent"}}
  },
  {
    "width": 117, "height": 100,
    "encoding": {"x": {"field": "t", "type": "quantitative", "scale": {"domain": [1, 59.5], "nice": false, "zero": false}, "axis": {"values": [20, 40], "format": "d", "title": null}}},
    "layer": [
      {"data": {"values": [{"t": 20}, {"t": 40}]}, "mark": {"type": "rule", "color": "#8fd69a", "strokeDash": [1, 1], "strokeWidth": 1}, "encoding": {}},
      {"data": {"values": [{"t": 2, "v": 0.868}, {"t": 3.3, "v": 0.864}, {"t": 5, "v": 0.876}, {"t": 7.5, "v": 0.843}, {"t": 10, "v": 0.816}, {"t": 12.5, "v": 0.787}, {"t": 15, "v": 0.77}, {"t": 17.5, "v": 0.754}, {"t": 20, "v": 0.73}, {"t": 22.5, "v": 0.754}, {"t": 25, "v": 0.783}, {"t": 26.7, "v": 0.803}, {"t": 28.7, "v": 0.762}, {"t": 31.7, "v": 0.738}, {"t": 35, "v": 0.722}, {"t": 40, "v": 0.714}, {"t": 45, "v": 0.706}, {"t": 49.2, "v": 0.701}, {"t": 51.7, "v": 0.73}, {"t": 55, "v": 0.714}, {"t": 58.7, "v": 0.701}]},
       "mark": {"type": "line", "color": "#e6342c", "clip": true},
       "encoding": {"y": {"field": "v", "type": "quantitative", "scale": {"domain": [0.5, 0.99], "nice": false, "zero": false}, "axis": {"values": [0.6, 0.7, 0.8, 0.9], "format": ".1f", "title": null}}}},
      {"data": {"values": [{"t": 2, "v": 1.5751}, {"t": 5, "v": 1.5755}, {"t": 11.7, "v": 1.5751}, {"t": 16.7, "v": 1.5757}, {"t": 20, "v": 1.5745}, {"t": 25, "v": 1.5741}, {"t": 30, "v": 1.5731}, {"t": 35, "v": 1.5731}, {"t": 40, "v": 1.5731}, {"t": 43.3, "v": 1.5722}, {"t": 46.7, "v": 1.5731}, {"t": 53.3, "v": 1.5731}, {"t": 57, "v": 1.5741}]},
       "mark": {"type": "line", "color": "#2c3e9e", "clip": true},
       "encoding": {"y": {"field": "v", "type": "quantitative", "scale": {"domain": [1.54, 1.599], "nice": false, "zero": false}, "axis": {"orient": "right", "values": [1.56, 1.58], "format": ".2f", "title": null}}}}
    ],
    "resolve": {"scale": {"y": "independent"}}
  }
  ]
}
],
"spacing": 5
}
